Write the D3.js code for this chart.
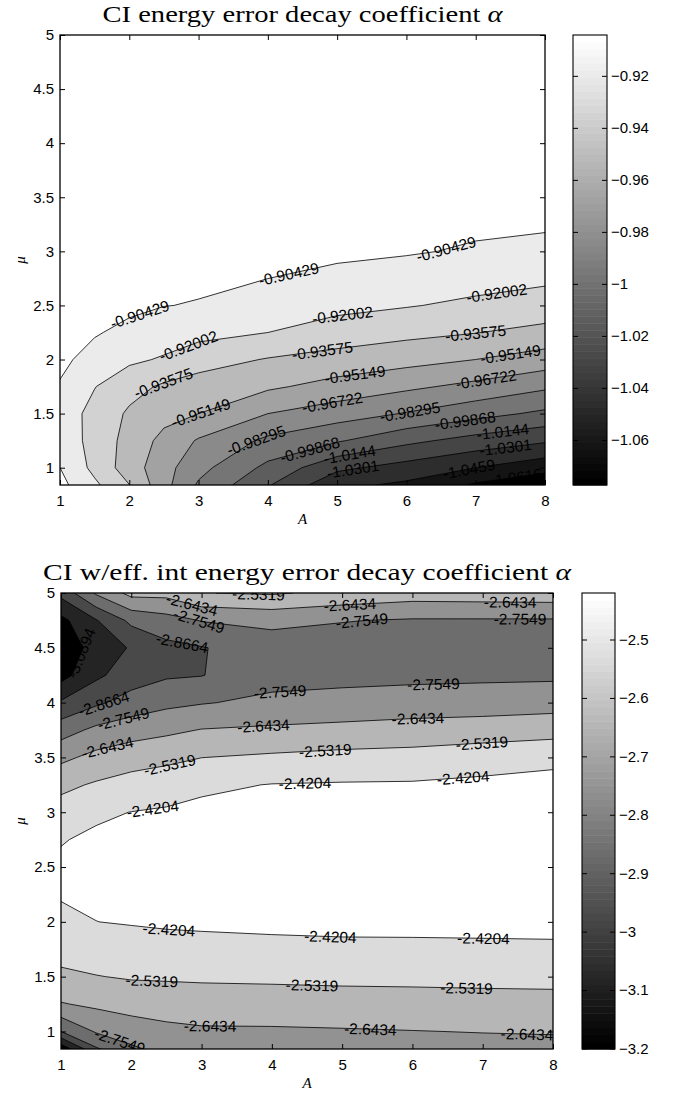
<!DOCTYPE html>
<html>
<head>
<meta charset="utf-8">
<script src="https://cdn.jsdelivr.net/npm/d3@7"></script>
<style>
  body { margin: 0; background: #fff; }
</style>
</head>
<body>
<div id="graph"></div>
<script>
//
// Data read off the two contour plots...
//
var aTicks  = [1, 2, 3, 4, 5, 6, 7, 8];
var muTicks = [1, 1.5, 2, 2.5, 3, 3.5, 4, 4.5, 5];

// top plot: CI
var ciTitle  = 'CI energy error decay coefficient ';
var ciA      = [1, 1.5, 2, 2.5, 3, 4, 5, 6, 7, 8];
var ciMu     = [0.84, 1.0, 1.25, 1.5, 1.75, 2.0, 2.25, 2.5, 3.0, 3.5, 4.0, 5.0];
var ciLevels = [-1.07733, -1.0616, -1.0459, -1.0301, -1.0144, -0.99868, -0.98295,
                -0.96722, -0.95149, -0.93575, -0.92002, -0.90429];
var ciBarTicks = [-0.92, -0.94, -0.96, -0.98, -1, -1.02, -1.04, -1.06];
var ciAlpha = [
  [-0.9000, -0.9170, -0.9355, -0.9620, -0.9850, -1.0130, -1.0420, -1.0490, -1.0638, -1.0740],
  [-0.9043, -0.9243, -0.9436, -0.9615, -0.9780, -1.0026, -1.0267, -1.0361, -1.0459, -1.0560],
  [-0.9100, -0.9255, -0.9413, -0.9560, -0.9688, -0.9863, -0.9970, -1.0105, -1.0203, -1.0280],
  [-0.9110, -0.9252, -0.9380, -0.9463, -0.9515, -0.9672, -0.9755, -0.9839, -0.9932, -1.0018],
  [-0.9055, -0.9195, -0.9303, -0.9381, -0.9424, -0.9490, -0.9570, -0.9641, -0.9714, -0.9802],
  [-0.9010, -0.9098, -0.9171, -0.9216, -0.9293, -0.9367, -0.9416, -0.9461, -0.9515, -0.9586],
  [-0.8980, -0.9030, -0.9082, -0.9122, -0.9150, -0.9200, -0.9270, -0.9316, -0.9353, -0.9405],
  [-0.8960, -0.8990, -0.9010, -0.9040, -0.9050, -0.9100, -0.9158, -0.9191, -0.9230, -0.9263],
  [-0.8930, -0.8950, -0.8960, -0.8975, -0.8990, -0.8985, -0.9010, -0.9030, -0.9059, -0.9087],
  [-0.8900, -0.8910, -0.8920, -0.8930, -0.8930, -0.8940, -0.8950, -0.8960, -0.8975, -0.8960],
  [-0.8890, -0.8890, -0.8900, -0.8900, -0.8900, -0.8910, -0.8920, -0.8930, -0.8940, -0.8950],
  [-0.8880, -0.8880, -0.8880, -0.8880, -0.8880, -0.8890, -0.8890, -0.8890, -0.8890, -0.8900]
];
// contour labels: level, A, mu (snapped onto the line)
var ciLabelAt = [
  [-0.90429, 2.16, 2.40], [-0.90429, 4.31, 2.77], [-0.90429, 6.57, 3.03],
  [-0.92002, 2.88, 2.08], [-0.92002, 5.08, 2.40], [-0.92002, 7.31, 2.58],
  [-0.93575, 2.54, 1.70], [-0.93575, 4.79, 2.07], [-0.93575, 7.00, 2.24],
  [-0.95149, 3.02, 1.53], [-0.95149, 5.25, 1.89], [-0.95149, 7.50, 2.06],
  [-0.96722, 4.92, 1.64], [-0.96722, 7.15, 1.82],
  [-0.98295, 3.84, 1.24], [-0.98295, 6.04, 1.56],
  [-0.99868, 4.61, 1.16], [-0.99868, 6.84, 1.47],
  [-1.0144, 5.18, 1.13],  [-1.0144, 7.39, 1.34],
  [-1.0301, 5.23, 0.98],  [-1.0301, 7.43, 1.19],
  [-1.0459, 6.90, 1.00],  [-1.0616, 7.58, 0.92]
];

// bottom plot: CI with effective interaction
var effTitle  = 'CI w/eff. int energy error decay coefficient ';
var effA      = [1, 1.5, 2, 2.5, 3, 4, 5, 6, 7, 8];
var effMu     = [0.84, 1.0, 1.25, 1.5, 1.75, 2.0, 2.25, 2.5, 2.75, 3.0,
                 3.25, 3.5, 3.75, 4.0, 4.25, 4.5, 4.75, 5.0];
var effLevels = [-3.2009, -3.0894, -2.9779, -2.8664, -2.7549, -2.6434, -2.5319, -2.4204];
var effBarTicks = [-2.5, -2.6, -2.7, -2.8, -2.9, -3, -3.1, -3.2];
var effAlpha = [
  [-3.1700, -2.8800, -2.7735, -2.7187, -2.7030, -2.6950, -2.6900, -2.6830, -2.6800, -2.6788],
  [-2.8670, -2.7438, -2.6992, -2.6700, -2.6580, -2.6570, -2.6520, -2.6460, -2.6400, -2.6352],
  [-2.6502, -2.6222, -2.6010, -2.5943, -2.5865, -2.5829, -2.5788, -2.5750, -2.5709, -2.5673],
  [-2.5509, -2.5354, -2.5224, -2.5190, -2.5159, -2.5124, -2.5074, -2.5060, -2.5029, -2.5015],
  [-2.4962, -2.4773, -2.4630, -2.4539, -2.4494, -2.4427, -2.4370, -2.4360, -2.4340, -2.4320],
  [-2.4505, -2.4210, -2.4140, -2.4080, -2.4050, -2.4010, -2.4000, -2.4000, -2.4000, -2.4000],
  [-2.4100, -2.4070, -2.4000, -2.3940, -2.3900, -2.3870, -2.3860, -2.3850, -2.3850, -2.3850],
  [-2.4050, -2.4030, -2.3950, -2.3880, -2.3830, -2.3800, -2.3790, -2.3780, -2.3780, -2.3780],
  [-2.4255, -2.4040, -2.4000, -2.3920, -2.3850, -2.3820, -2.3800, -2.3780, -2.3780, -2.3780],
  [-2.4873, -2.4360, -2.4190, -2.4080, -2.3970, -2.3920, -2.3880, -2.3860, -2.3850, -2.3850],
  [-2.5575, -2.5196, -2.4897, -2.4717, -2.4390, -2.4170, -2.4120, -2.4100, -2.4000, -2.3960],
  [-2.6690, -2.6122, -2.5787, -2.5575, -2.5330, -2.5152, -2.4985, -2.4906, -2.4650, -2.4400],
  [-2.8040, -2.7293, -2.6916, -2.6668, -2.6390, -2.6255, -2.6144, -2.6016, -2.5923, -2.5784],
  [-2.9645, -2.8854, -2.8218, -2.7817, -2.7620, -2.7302, -2.7137, -2.7014, -2.6954, -2.6857],
  [-3.1300, -3.0000, -2.9200, -2.8800, -2.8700, -2.7950, -2.7900, -2.7830, -2.7780, -2.7750],
  [-3.1900, -3.0300, -2.9700, -2.8950, -2.8720, -2.8120, -2.8100, -2.8050, -2.8000, -2.7950],
  [-3.1200, -2.9850, -2.8400, -2.7980, -2.7500, -2.7250, -2.7500, -2.7650, -2.7650, -2.7650],
  [-2.9450, -2.7400, -2.6100, -2.6100, -2.5350, -2.5200, -2.5600, -2.5900, -2.5850, -2.5800]
];
var effLabelAt = [
  [-2.6434, 2.86, 4.89], [-2.5319, 3.81, 4.98], [-2.7549, 2.98, 4.78], [-2.8664, 2.74, 4.60],
  [-3.0894, 1.25, 4.46],
  [-2.6434, 5.11, 4.89], [-2.7549, 5.28, 4.75], [-2.6434, 7.39, 4.89], [-2.7549, 7.53, 4.79],
  [-2.8664, 1.61, 3.99], [-2.7549, 1.89, 3.85], [-2.6434, 1.65, 3.62], [-2.5319, 2.53, 3.48],
  [-2.7549, 4.12, 4.07], [-2.6434, 3.88, 3.79], [-2.7549, 6.30, 4.14], [-2.6434, 6.08, 3.83],
  [-2.5319, 4.76, 3.57], [-2.5319, 6.99, 3.61],
  [-2.4204, 4.47, 3.28], [-2.4204, 6.72, 3.33], [-2.4204, 2.29, 3.10],
  [-2.4204, 2.53, 1.87], [-2.4204, 4.83, 1.81], [-2.4204, 7.01, 1.81],
  [-2.5319, 2.29, 1.45], [-2.5319, 4.57, 1.40], [-2.5319, 6.77, 1.39],
  [-2.6434, 3.12, 1.04], [-2.6434, 5.40, 0.99], [-2.6434, 7.63, 0.97],
  [-2.7549, 1.84, 0.92]
];


var sansFont  = '"Liberation Sans", Arial, Helvetica, sans-serif';
var serifFont = '"Liberation Serif", "Times New Roman", serif';

var svg = d3.select ('div#graph')
            .append ('svg')
            .attr ('width', 681)
            .attr ('height', 1094);

svg.append ('rect').attr ('width', 681).attr ('height', 1094).attr ('fill', '#fff');


function DrawPanel (p, id)
{
    var x = d3.scaleLinear ().domain (d3.extent (p.a)).range ([p.left, p.right]);
    var y = d3.scaleLinear ().domain (d3.extent (p.mu)).range ([p.bottom, p.top]);

    // contour grid units -> data; sample k sits at k + 0.5
    var ia = d3.scaleLinear ().domain (p.a.map (function (d, k) { return k + 0.5; })).range (p.a);
    var im = d3.scaleLinear ().domain (p.mu.map (function (d, k) { return k + 0.5; })).range (p.mu);

    var lo = p.levels[0];
    var hi = p.levels[p.levels.length - 1];

    // matlab gray colormap, 64 entries
    var grey = function (v)
    {
        var k = Math.floor ((v - lo) / (hi - lo) * 64 + 1e-9);
        k = Math.max (0, Math.min (63, k));
        var c = Math.round (255 * k / 63);
        return d3.rgb (c, c, c).formatHex ();
    };

    var flat  = [].concat.apply ([], p.z);
    var geoms = d3.contours ()
                  .size ([p.a.length, p.mu.length])
                  .thresholds (p.levels) (flat);

    var proj = d3.geoTransform ({
        point: function (gx, gy) { this.stream.point (x (ia (gx)), y (im (gy))); }
    });
    var path = d3.geoPath (proj);

    svg.append ('clipPath')
       .attr ('id', 'clip' + id)
       .append ('rect')
       .attr ('x', p.left).attr ('y', p.top)
       .attr ('width', p.right - p.left).attr ('height', p.bottom - p.top);

    var plot = svg.append ('g').attr ('clip-path', 'url(#clip' + id + ')');

    plot.selectAll ('path.band')
        .data (geoms)
        .join ('path')
        .attr ('class', 'band')
        .attr ('d', path)
        .attr ('fill', function (d) { return grey (d.value); });

    plot.selectAll ('path.iso')
        .data (geoms.slice (1))
        .join ('path')
        .attr ('class', 'iso')
        .attr ('d', path)
        .attr ('fill', 'none')
        .attr ('stroke', '#000')
        .attr ('stroke-width', 0.8);

    //
    // Contour labels, snapped to the nearest point of their line
    //
    var inside = function (P)
    {
        return P[0] >= p.left - 0.5 && P[0] <= p.right + 0.5 &&
               P[1] >= p.top - 0.5 && P[1] <= p.bottom + 0.5;
    };

    p.labels.forEach (function (lab)
    {
        var geom = geoms.filter (function (g) { return Math.abs (g.value - lab[0]) < 1e-9; })[0];
        if (!geom) return;
        var px = x (lab[1]), py = y (lab[2]);
        var best = null;

        geom.coordinates.forEach (function (poly) {
            poly.forEach (function (ring) {
                var pts = ring.map (function (c) { return [x (ia (c[0])), y (im (c[1]))]; });
                for (var k = 1; k < pts.length; k++)
                {
                    var P = pts[k - 1], Q = pts[k];
                    if (!inside (P) || !inside (Q)) continue;
                    var dx = Q[0] - P[0], dy = Q[1] - P[1];
                    var L2 = dx * dx + dy * dy;
                    if (L2 < 1e-9) continue;
                    var t = ((px - P[0]) * dx + (py - P[1]) * dy) / L2;
                    t = Math.max (0, Math.min (1, t));
                    var sx = P[0] + t * dx, sy = P[1] + t * dy;
                    var dist = (sx - px) * (sx - px) + (sy - py) * (sy - py);
                    if (!best || dist < best.dist)
                        best = { dist: dist, x: sx, y: sy, ang: Math.atan2 (dy, dx) * 180 / Math.PI };
                }
            });
        });
        if (!best) return;

        var ang = best.ang;
        if (ang >= 90)  ang -= 180;
        if (ang < -90)  ang += 180;

        plot.append ('text')
            .attr ('transform', 'translate(' + best.x + ',' + best.y + ') rotate(' + ang + ')')
            .attr ('text-anchor', 'middle')
            .attr ('dy', '0.36em')
            .attr ('font-family', sansFont)
            .attr ('font-size', 15.5)
            .attr ('fill', '#000')
            .text (String (lab[0]));
    });

    //
    // Axes (ticks inside, on all four sides)
    //
    var fmt = d3.format ('~g');
    var axes = [
        { ax: d3.axisBottom (x).tickValues (aTicks).tickFormat (fmt).tickPadding (10), t: 'translate(0,' + p.bottom + ')' },
        { ax: d3.axisTop (x).tickValues (aTicks).tickFormat (''), t: 'translate(0,' + p.top + ')' },
        { ax: d3.axisLeft (y).tickValues (muTicks).tickFormat (fmt).tickPadding (6), t: 'translate(' + p.left + ',0)' },
        { ax: d3.axisRight (y).tickValues (muTicks).tickFormat (''), t: 'translate(' + p.right + ',0)' }
    ];

    axes.forEach (function (a)
    {
        svg.append ('g')
           .attr ('transform', a.t)
           .call (a.ax.tickSizeInner (-5).tickSizeOuter (0))
           .attr ('font-family', sansFont)
           .attr ('font-size', 15)
           .call (function (g) { g.select ('.domain').remove (); });
    });

    svg.append ('rect')
       .attr ('x', p.left).attr ('y', p.top)
       .attr ('width', p.right - p.left).attr ('height', p.bottom - p.top)
       .attr ('fill', 'none')
       .attr ('stroke', '#000')
       .attr ('stroke-width', 1.3);

    //
    // Axis labels and title
    //
    svg.append ('text')
       .attr ('x', (p.left + p.right) / 2)
       .attr ('y', p.bottom + 39)
       .attr ('text-anchor', 'middle')
       .attr ('font-family', serifFont)
       .attr ('font-style', 'italic')
       .attr ('font-size', 15)
       .text ('A');

    svg.append ('text')
       .attr ('transform', 'translate(25,' + (p.top + p.bottom) / 2 + ') rotate(-90)')
       .attr ('text-anchor', 'middle')
       .attr ('font-family', serifFont)
       .attr ('font-style', 'italic')
       .attr ('font-size', 15)
       .text ('\u03bc');

    var title = svg.append ('text')
       .attr ('x', (p.left + p.right) / 2)
       .attr ('y', p.top - 13)
       .attr ('text-anchor', 'middle')
       .attr ('font-family', serifFont)
       .attr ('font-size', 24)
       .attr ('textLength', p.titleWidth)
       .attr ('lengthAdjust', 'spacingAndGlyphs');
    title.append ('tspan').text (p.title);
    title.append ('tspan').attr ('font-style', 'italic').text ('\u03b1');

    //
    // Colour bar
    //
    var cb = d3.scaleLinear ().domain ([lo, hi]).range ([p.bottom, p.top]);
    var step = (hi - lo) / 64;

    svg.append ('g')
       .selectAll ('rect')
       .data (d3.range (64))
       .join ('rect')
       .attr ('x', p.barLeft)
       .attr ('width', p.barRight - p.barLeft)
       .attr ('y', function (k) { return cb (lo + (k + 1) * step); })
       .attr ('height', function (k) { return cb (lo + k * step) - cb (lo + (k + 1) * step) + 0.5; })
       .attr ('fill', function (k) { return grey (lo + (k + 0.5) * step); });

    svg.append ('g')
       .attr ('transform', 'translate(' + p.barRight + ',0)')
       .call (d3.axisRight (cb).tickValues (p.bar).tickFormat (fmt).tickSizeInner (-5).tickSizeOuter (0).tickPadding (4))
       .attr ('font-family', sansFont)
       .attr ('font-size', 15)
       .call (function (g) { g.select ('.domain').remove (); });

    svg.append ('g')
       .attr ('transform', 'translate(' + p.barLeft + ',0)')
       .call (d3.axisLeft (cb).tickValues (p.bar).tickFormat ('').tickSizeInner (-5).tickSizeOuter (0))
       .call (function (g) { g.select ('.domain').remove (); });

    svg.append ('rect')
       .attr ('x', p.barLeft).attr ('y', p.top)
       .attr ('width', p.barRight - p.barLeft).attr ('height', p.bottom - p.top)
       .attr ('fill', 'none')
       .attr ('stroke', '#000')
       .attr ('stroke-width', 1.1);
}


DrawPanel ({ a: ciA, mu: ciMu, z: ciAlpha, levels: ciLevels, bar: ciBarTicks,
             labels: ciLabelAt, title: ciTitle,
             left: 60, right: 545, top: 35, bottom: 485,
             barLeft: 573, barRight: 607, titleWidth: 400 }, 1);

DrawPanel ({ a: effA, mu: effMu, z: effAlpha, levels: effLevels, bar: effBarTicks,
             labels: effLabelAt, title: effTitle,
             left: 61, right: 553, top: 593, bottom: 1049,
             barLeft: 582, barRight: 615, titleWidth: 528 }, 2);
</script>
</body>
</html>
